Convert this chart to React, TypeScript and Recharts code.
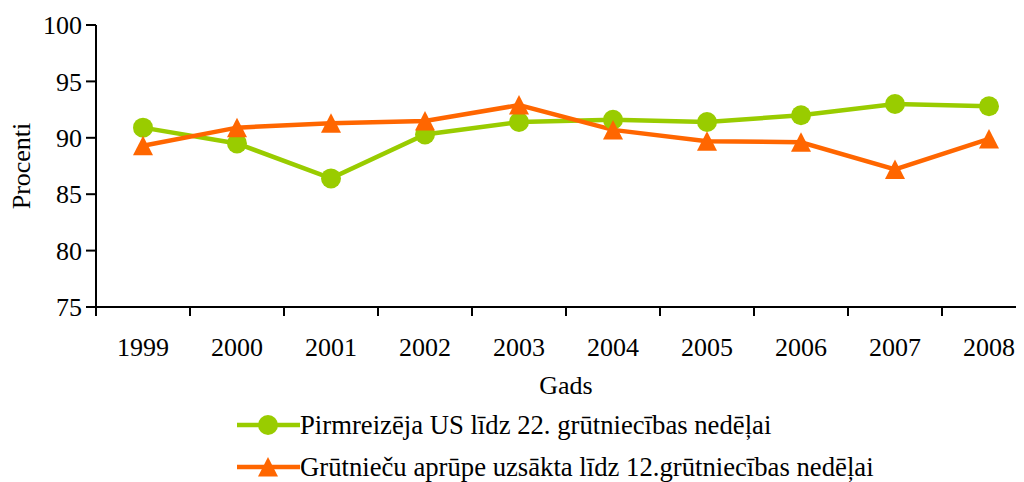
import { Label, Legend, Line, LineChart, XAxis, YAxis } from 'recharts';

const years = [1999, 2000, 2001, 2002, 2003, 2004, 2005, 2006, 2007, 2008];
const firstUltrasound = [90.9, 89.5, 86.4, 90.3, 91.4, 91.6, 91.4, 92.0, 93.0, 92.8];
const earlyCare = [89.3, 90.9, 91.3, 91.5, 92.9, 90.7, 89.7, 89.6, 87.2, 89.9];
const yTicks = [75, 80, 85, 90, 95, 100];
const seriesNames = [
  'Pirmreizēja US līdz 22. grūtniecības nedēļai',
  'Grūtnieču aprūpe uzsākta līdz 12.grūtniecības nedēļai',
];

const GREEN = '#99cc00';
const ORANGE = '#ff6600';
const FONT = '"Liberation Serif", "Times New Roman", serif';

const data = years.map((year, i) => ({ year, us: firstUltrasound[i], care: earlyCare[i] }));
// tick marks sit between the categories, like the original
const bandTicks = [...years.map((y) => y - 0.5), years[years.length - 1] + 0.5];

const Triangle = ({ cx, cy, fill }: any) => {
  if (cx == null || cy == null) return null;
  return <polygon points={`${cx},${cy - 10} ${cx - 10},${cy + 9.5} ${cx + 10},${cy + 9.5}`} fill={fill} />;
};

const NoLabel = () => <g />;

const LegendContent = () => (
  <div style={{ fontFamily: FONT, fontSize: 26.7, color: '#000' }}>
    {seriesNames.map((name, i) => (
      <div key={name} style={{ display: 'flex', alignItems: 'center', height: 42, whiteSpace: 'nowrap' }}>
        <svg width={63} height={24}>
          <line x1={0} y1={12} x2={63} y2={12} stroke={i === 0 ? GREEN : ORANGE} strokeWidth={4.5} />
          {i === 0 ? <circle cx={31} cy={12} r={10} fill={GREEN} /> : <Triangle cx={31} cy={12} fill={ORANGE} />}
        </svg>
        <span>{name}</span>
      </div>
    ))}
  </div>
);

export default function App() {
  return (
    <div style={{ width: 1016, height: 474, overflow: 'hidden', position: 'relative' }}>
      <LineChart width={1040} height={474} data={data} margin={{ top: 17, right: 12, left: 0, bottom: 85 }}>
        <XAxis
          xAxisId="b"
          type="number"
          dataKey="year"
          domain={[1998.5, 2008.5]}
          ticks={years}
          height={80}
          axisLine={false}
          tickLine={false}
          tickSize={6}
          tickMargin={15}
          tick={{ fill: '#000', fontSize: 26, fontFamily: FONT }}
        >
          <Label value="Gads" position="insideBottom" offset={3} style={{ fill: '#000', fontSize: 26, fontFamily: FONT }} />
        </XAxis>
        <XAxis
          xAxisId="a"
          type="number"
          dataKey="year"
          domain={[1998.5, 2008.5]}
          ticks={bandTicks}
          tick={<NoLabel />}
          height={10}
          tickSize={9}
          axisLine={{ stroke: '#000', strokeWidth: 2 }}
          tickLine={{ stroke: '#000', strokeWidth: 2 }}
        />
        <YAxis
          domain={[75, 100]}
          ticks={yTicks}
          width={88}
          interval={0}
          tickSize={10}
          tickMargin={4}
          axisLine={{ stroke: '#000', strokeWidth: 2 }}
          tickLine={{ stroke: '#000', strokeWidth: 2 }}
          tick={{ fill: '#000', fontSize: 26, fontFamily: FONT }}
        >
          <Label
            content={({ viewBox }: any) => {
              const cy = viewBox.y + viewBox.height / 2;
              return (
                <text
                  x={13}
                  y={cy}
                  transform={`rotate(-90, 13, ${cy})`}
                  textAnchor="middle"
                  dominantBaseline="central"
                  style={{ fill: '#000', fontSize: 26, fontFamily: FONT }}
                >
                  Procenti
                </text>
              );
            }}
          />
        </YAxis>
        <Legend
          layout="vertical"
          align="center"
          verticalAlign="middle"
          wrapperStyle={{ left: 229, top: 396, width: 'auto', height: 'auto' }}
          content={<LegendContent />}
        />
        <Line
          xAxisId="a"
          type="linear"
          dataKey="us"
          name={seriesNames[0]}
          stroke={GREEN}
          strokeWidth={4.5}
          dot={{ r: 10, fill: GREEN, stroke: 'none' }}
          activeDot={false}
          isAnimationActive={false}
        />
        <Line
          xAxisId="a"
          type="linear"
          dataKey="care"
          name={seriesNames[1]}
          stroke={ORANGE}
          strokeWidth={4.5}
          dot={<Triangle fill={ORANGE} />}
          activeDot={false}
          isAnimationActive={false}
        />
      </LineChart>
    </div>
  );
}
